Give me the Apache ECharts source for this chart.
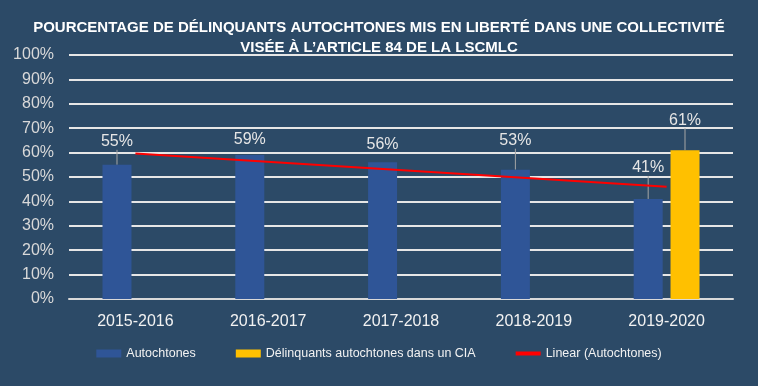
<!DOCTYPE html>
<html><head><meta charset="utf-8">
<script src="https://cdn.jsdelivr.net/npm/echarts@6/dist/echarts.min.js"></script>
<style>html,body{margin:0;padding:0;background:#2c4a67;}#c{width:758px;height:386px;}</style>
</head><body><div id="c"></div>
<script>
const categories = ['2015-2016','2016-2017','2017-2018','2018-2019','2019-2020'];
const autochtones = [55, 59, 56, 53, 41];
const cia = [null, null, null, null, 61];
const trend = [59.6, null, null, null, 46.0];
const yTicks = [0,10,20,30,40,50,60,70,80,90,100];
const autoLabelGap = [12, 4, 7, 18, 20];
const ciaLabelGap = [0, 0, 0, 0, 19];
const autoLeader = [true, false, false, true, true];
const ciaLeader = [false, false, false, false, true];

const chart = echarts.init(document.getElementById('c'));
const lbl = {show:true, position:'top', distance:3, color:'#e6e6e6', fontSize:16, fontFamily:'Liberation Sans, Arial, sans-serif', formatter: p => p.value + '%'};
function mk(vals, leaders){
  return vals.map((v,i)=> v==null ? null : ({value:v, labelLine:{show:leaders[i]}}));
}
chart.setOption({
  backgroundColor:'#2c4a67',
  animation:false,
  title:{
    text:'POURCENTAGE DE DÉLINQUANTS AUTOCHTONES MIS EN LIBERTÉ DANS UNE COLLECTIVITÉ\nVISÉE À L\u2019ARTICLE 84 DE LA LSCMLC',
    left:'center', top:13,
    textStyle:{color:'#ffffff', fontSize:15, fontWeight:'bold', fontFamily:'Liberation Sans, Arial, sans-serif', lineHeight:20}
  },
  grid:{left:69, right:25, top:55, bottom:87},
  legend:{
    bottom:21, left:'center', itemWidth:25, itemHeight:8, itemGap:40,
    textStyle:{color:'#f2f2f2', fontSize:12.5, fontFamily:'Liberation Sans, Arial, sans-serif'},
    data:[{name:'Autochtones', icon:'rect'},{name:'Délinquants autochtones dans un CIA', icon:'rect'},
          {name:'Linear (Autochtones)', icon:'path://M0 0 H100 V16 H0 Z', itemStyle:{color:'#ff0000'}}]
  },
  xAxis:{type:'category', data:categories,
    axisLine:{show:true, lineStyle:{color:'#d9d9d9', width:2}}, axisTick:{show:false},
    axisLabel:{color:'#f2f2f2', fontSize:16, margin:15, fontFamily:'Liberation Sans, Arial, sans-serif'}},
  yAxis:{type:'value', min:0, max:100, interval:10,
    axisLabel:{color:'#d9d9d9', fontSize:16, margin:15, fontFamily:'Liberation Sans, Arial, sans-serif', formatter: v => yTicks.includes(v) ? v + '%' : ''},
    axisLine:{show:false}, axisTick:{show:false},
    splitLine:{lineStyle:{color:'#e6e6e6', width:2}}},
  series:[
    {name:'Autochtones', type:'bar', data:mk(autochtones, autoLeader), barWidth:29, barGap:'27%',
     itemStyle:{color:'#2f5597'}, label:lbl,
     labelLine:{show:true, lineStyle:{color:'#a6a6a6', width:1}},
     labelLayout: p => ({dy: -autoLabelGap[p.dataIndex]})},
    {name:'Délinquants autochtones dans un CIA', type:'bar', data:mk(cia, ciaLeader), barWidth:29,
     itemStyle:{color:'#ffc000'}, label:lbl,
     labelLine:{show:true, lineStyle:{color:'#a6a6a6', width:1}},
     labelLayout: p => ({dy: -ciaLabelGap[p.dataIndex]})},
    {name:'Linear (Autochtones)', type:'line', data:trend, connectNulls:true, symbol:'none', showSymbol:false,
     lineStyle:{color:'#ff0000', width:2}, itemStyle:{color:'#ff0000'}, z:5}
  ]
});
</script></body></html>
